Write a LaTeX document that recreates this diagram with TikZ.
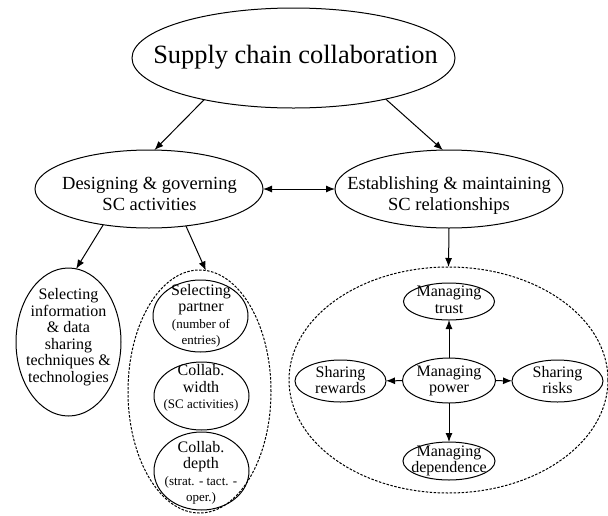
\documentclass[tikz,border=0pt]{standalone}
\usepackage{fontspec}
\setmainfont{Liberation Serif}
\usetikzlibrary{shapes.geometric,arrows.meta}
\newcommand\smtxt{\fontsize{13}{14}\selectfont}
\begin{document}
\begin{tikzpicture}[x=1pt,y=-1pt,
  ell/.style={ellipse,draw,line width=1pt,inner sep=0pt,outer sep=0pt},
  dsh/.style={ellipse,draw,line width=1pt,inner sep=0pt,outer sep=0pt,dash pattern=on 2.5pt off 1.5pt},
  txt/.style={align=center,inner sep=0pt},
  big/.style={txt,font=\fontsize{26.4}{30}\selectfont},
  mid/.style={txt,font=\fontsize{18.5}{21}\selectfont},
  sml/.style={txt,font=\fontsize{16}{16.5}\selectfont},
  arr/.style={line width=1pt,-{Latex[length=9pt,width=7pt]}},
  darr/.style={line width=1pt,{Latex[length=9pt,width=7pt]}-{Latex[length=9pt,width=7pt]}}]
\useasboundingbox (0,0) rectangle (608,515);
% main ellipses
\node[ell,minimum width=323pt,minimum height=100pt] (top) at (293.5,58) {};
\node[big] (topt) at (295.5,57) {Supply chain collaboration};
\node[ell,minimum width=228pt,minimum height=78pt] (des) at (149,189) {};
\node[mid] (dest) at (149.5,194) {Designing \& governing\\SC activities};
\node[ell,minimum width=228pt,minimum height=78pt] (est) at (449,189) {};
\node[mid] (estt) at (449,196) {Establishing \& maintaining\\SC relationships};
% left lower
\node[ell,minimum width=105pt,minimum height=148pt] (si) at (68.5,342) {};
\node[sml] (sit) at (68.5,337) {Selecting\\information\\\& data\\sharing\\techniques \&\\technologies};
\node[dsh,minimum width=143pt,minimum height=243pt] (ld) at (199.5,391.5) {};
\node[ell,minimum width=95pt,minimum height=72pt] (sp) at (200.5,316) {};
\node[sml] (spt) at (201,316) {Selecting\\partner\\{\smtxt (number of}\\{\smtxt entries)}};
\node[ell,minimum width=95pt,minimum height=68pt] (cw) at (201.5,396) {};
\node[sml] (cwt) at (201,388) {Collab.\\width\\{\smtxt (SC activities)}};
\node[ell,minimum width=95pt,minimum height=78pt] (cd) at (201.5,471) {};
\node[sml] (cdt) at (201,473) {Collab.\\depth\\{\smtxt (strat. - tact. -}\\{\smtxt oper.)}};
% right lower
\node[dsh,minimum width=319pt,minimum height=226pt] (rd) at (448.5,380) {};
\node[ell,minimum width=91pt,minimum height=37pt] (tr) at (449,301.5) {};
\node[sml] (trt) at (449,300) {Managing\\trust};
\node[ell,minimum width=93pt,minimum height=45pt] (pw) at (449,380.5) {};
\node[sml] (pwt) at (449,381) {Managing\\power};
\node[ell,minimum width=91pt,minimum height=42pt] (rw) at (340.5,381) {};
\node[sml] (rwt) at (340.5,380) {Sharing\\rewards};
\node[ell,minimum width=91pt,minimum height=42pt] (rk) at (557.5,381) {};
\node[sml] (rkt) at (557.5,380) {Sharing\\risks};
\node[ell,minimum width=92pt,minimum height=38pt] (dp) at (449,461) {};
\node[sml] (dpt) at (449,461) {Managing\\dependence};
% connectors
\draw[arr] (top.205.7) -- (des.82);
\draw[arr] (top.336.5) -- (est.99.7);
\draw[darr] (des.east) -- (est.west);
\draw[arr] (des.218.2) -- (si.84.3);
\draw[arr] (des.315.7) -- (ld.87.5);
\draw[arr] (est.south) -- (rd.north);
\draw[arr] (pw) -- (tr);
\draw[arr] (pw) -- (rw);
\draw[arr] (pw) -- (rk);
\draw[arr] (pw) -- (dp);
\end{tikzpicture}
\end{document}
